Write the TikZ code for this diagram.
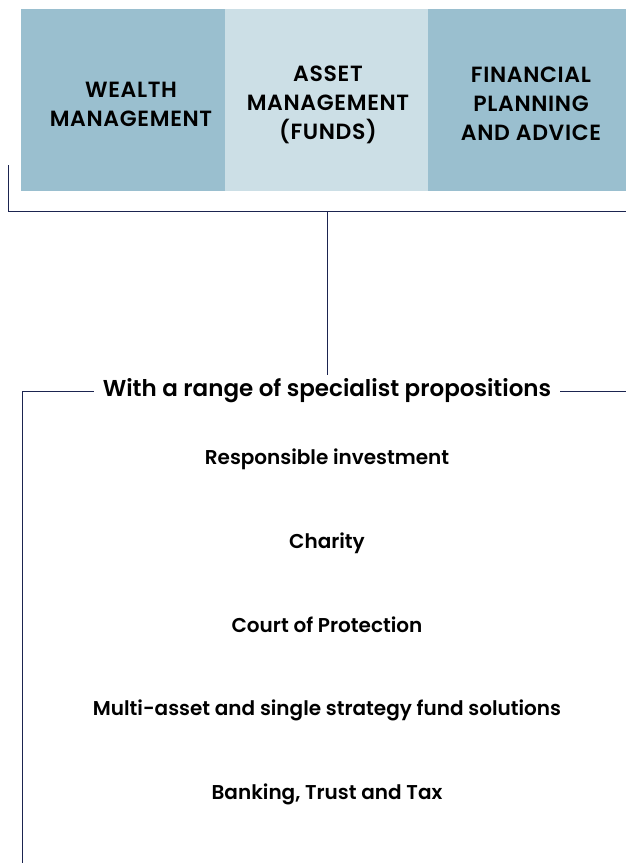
\documentclass[tikz,border=0pt]{standalone}
\usepackage{fontspec}
\setmainfont{Poppins}[UprightFont=* SemiBold]
\newfontfamily\capsfont{Poppins}[UprightFont=* SemiBold,LetterSpace=3]
\definecolor{boxdark}{HTML}{9ABFCF}
\definecolor{boxlight}{HTML}{CCDFE6}
\definecolor{navy}{HTML}{1B2450}
\begin{document}
\begin{tikzpicture}[x=1pt,y=-1pt,
  conn/.style={draw=navy,line width=1pt},
  unitbox/.style={minimum height=182pt,inner sep=0pt,anchor=north west},
  unittext/.style={inner sep=0pt,align=center,font=\capsfont\fontsize{22}{29}\selectfont},
  item/.style={font=\fontsize{20}{24}\selectfont,anchor=base},
  head/.style={font=\fontsize{23}{27}\selectfont,fill=white,inner xsep=9pt}]
\useasboundingbox (0,0) rectangle (626,863);
\node[unitbox,fill=boxdark,minimum width=204pt] (wm) at (21,9) {};
\node[unitbox,fill=boxlight,minimum width=203pt] (am) at (225,9) {};
\node[unitbox,fill=boxdark,minimum width=198pt] (fp) at (428,9) {};
\node[unittext] (wmt) at (131,104) {WEALTH\\MANAGEMENT};
\node[unittext] (amt) at (328,105) {ASSET\\MANAGEMENT\\(FUNDS)};
\node[unittext] (fpt) at (531,104) {FINANCIAL\\PLANNING\\AND ADVICE};
\coordinate (b1l) at (8,165);
\coordinate (b1c) at (8,211);
\coordinate (b1r) at (626,211);
\coordinate (b1m) at (327,211);
\draw[conn] (b1l) -- (b1c) -- (b1r);
\coordinate (b2r) at (626,391);
\coordinate (b2c) at (22,391);
\coordinate (b2b) at (22,863);
\draw[conn] (b2b) -- (b2c) -- (b2r);
\node[head] (spec) at (327,391) {With a range of specialist propositions};
\draw[conn] (b1m) -- (spec.north -| b1m);
\node[item] (i1) at (327,464) {Responsible investment};
\node[item] (i2) at (327,548) {Charity};
\node[item] (i3) at (327,632) {Court of Protection};
\node[item] (i4) at (327,715) {Multi-asset and single strategy fund solutions};
\node[item] (i5) at (327,799) {Banking, Trust and Tax};
\end{tikzpicture}
\end{document}
